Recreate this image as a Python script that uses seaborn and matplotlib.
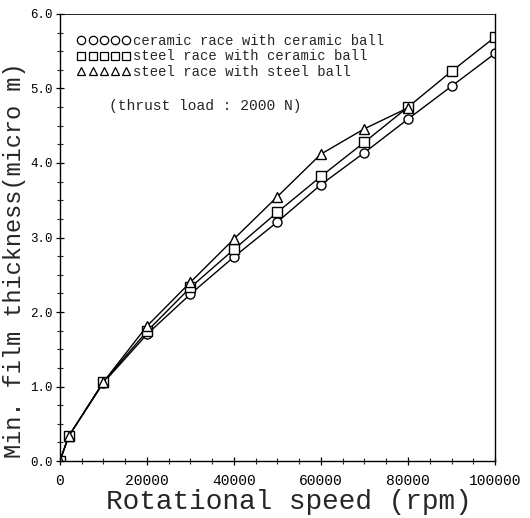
import matplotlib
matplotlib.use("Agg")
import matplotlib.pyplot as plt
from matplotlib.lines import Line2D
from matplotlib.ticker import MultipleLocator, FixedLocator
import seaborn as sns
import pandas as pd

# ---- data ----
speed_cc = [0, 2000, 10000, 20000, 30000, 40000, 50000, 60000, 70000, 80000, 90000, 100000]
film_cc = [0.0, 0.33, 1.05, 1.70, 2.24, 2.74, 3.21, 3.71, 4.14, 4.59, 5.03, 5.47]

speed_sc = [0, 2000, 10000, 20000, 30000, 40000, 50000, 60000, 70000, 80000, 90000, 100000]
film_sc = [0.0, 0.33, 1.06, 1.74, 2.33, 2.84, 3.34, 3.82, 4.28, 4.75, 5.23, 5.69]

speed_ss = [0, 2000, 10000, 20000, 30000, 40000, 50000, 60000, 70000, 80000]
film_ss = [0.0, 0.33, 1.06, 1.81, 2.40, 2.98, 3.55, 4.12, 4.46, 4.74]

series_labels = ["ceramic race with ceramic ball",
                 "steel race with ceramic ball",
                 "steel race with steel ball"]
x_ticks = [0, 20000, 40000, 60000, 80000, 100000]
x_ticklabels = ["0", "20000", "40000", "60000", "80000", "100000"]
y_ticks = [0, 1, 2, 3, 4, 5, 6]
y_ticklabels = ["0.0", "1.0", "2.0", "3.0", "4.0", "5.0", "6.0"]

df = pd.concat([
    pd.DataFrame({"speed": speed_cc, "film": film_cc, "series": series_labels[0]}),
    pd.DataFrame({"speed": speed_sc, "film": film_sc, "series": series_labels[1]}),
    pd.DataFrame({"speed": speed_ss, "film": film_ss, "series": series_labels[2]}),
], ignore_index=True)

sns.set_style("ticks")
plt.rcParams["font.family"] = ["Liberation Mono", "DejaVu Sans Mono"]

fig = plt.figure(figsize=(5.30, 5.18), dpi=100)
ax = fig.add_axes([0.113, 0.110, 0.821, 0.863])

markers = {series_labels[0]: "o", series_labels[1]: "s", series_labels[2]: "^"}
sns.lineplot(data=df, x="speed", y="film", style="series", markers=markers,
             dashes=False, color="black", linewidth=1.0, markersize=6.5,
             mfc="white", mec="black", mew=1.0, sort=False, legend=False, ax=ax)

ax.set_xlim(0, 100000)
ax.set_ylim(0, 6.0)
ax.xaxis.set_major_locator(FixedLocator(x_ticks))
ax.set_xticklabels(x_ticklabels)
ax.yaxis.set_major_locator(FixedLocator(y_ticks))
ax.set_yticklabels(y_ticklabels)
ax.xaxis.set_minor_locator(MultipleLocator(5000))
ax.yaxis.set_minor_locator(MultipleLocator(0.25))
ax.tick_params(axis="both", which="major", direction="inout", length=6, width=0.9,
               pad=2, colors="black")
ax.tick_params(axis="x", which="major", pad=6, labelsize=10.5)
ax.tick_params(axis="y", which="major", labelsize=9)
ax.tick_params(axis="both", which="minor", direction="inout", length=4, width=0.8)
for sp in ax.spines.values():
    sp.set_visible(True)
    sp.set_color("black")
    sp.set_linewidth(1.0)
ax.spines["top"].set_linewidth(0.6)

ax.set_xlabel("Rotational speed (rpm)", fontsize=20)
ax.set_ylabel("Min. film thickness(micro m)", fontsize=17)
ax.xaxis.set_label_coords(0.526, -0.062)
ax.yaxis.set_label_coords(-0.078, 0.45)

handles = [Line2D([], [], linestyle="none", marker=markers[s], mfc="white",
                  mec="black", mew=0.9, markersize=6) for s in series_labels]
leg = ax.legend(handles, series_labels, loc="upper left", bbox_to_anchor=(0.04, 0.955),
                numpoints=5, handlelength=3.8, handletextpad=0.2, labelspacing=0.1,
                frameon=False, borderpad=0, borderaxespad=0,
                prop={"size": 10})

ax.text(0.112, 0.795, "(thrust load : 2000 N)", transform=ax.transAxes,
        ha="left", va="center", fontsize=10.5)

fig.savefig("out.png", dpi=100)
